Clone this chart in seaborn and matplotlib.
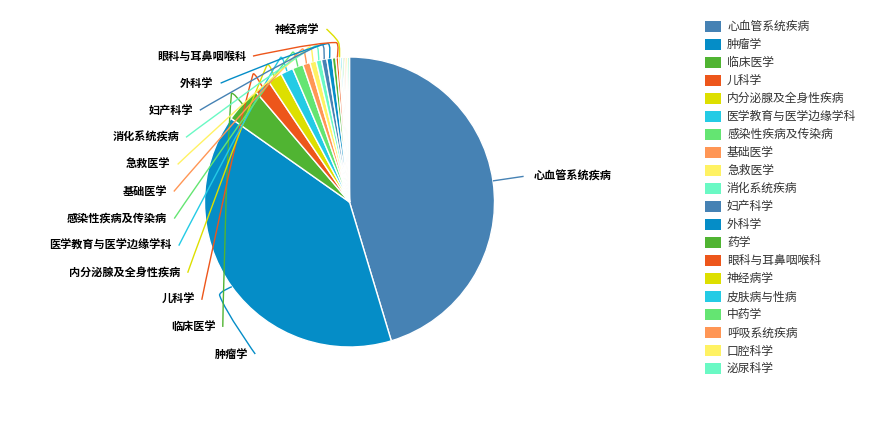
import matplotlib

matplotlib.use("Agg")
import matplotlib.pyplot as plt
import numpy as np
import seaborn as sns
from matplotlib.patches import PathPatch, Rectangle
from matplotlib.path import Path

# 数据
categories = [
    "心血管系统疾病", "肿瘤学", "临床医学", "儿科学", "内分泌腺及全身性疾病",
    "医学教育与医学边缘学科", "感染性疾病及传染病", "基础医学", "急救医学", "消化系统疾病",
    "妇产科学", "外科学", "药学", "眼科与耳鼻咽喉科", "神经病学",
    "皮肤病与性病", "中药学", "呼吸系统疾病", "口腔科学", "泌尿科学",
]
counts = [453, 394, 40, 18, 16, 14, 12, 8, 7, 6, 6, 6, 4, 3, 2, 2, 2, 2, 2, 2]
# 图上显示了标签的类别（其余被遮挡隐藏）
labeled = [
    "心血管系统疾病", "肿瘤学", "临床医学", "儿科学", "内分泌腺及全身性疾病",
    "医学教育与医学边缘学科", "感染性疾病及传染病", "基础医学", "急救医学", "消化系统疾病",
    "妇产科学", "外科学", "眼科与耳鼻咽喉科", "神经病学",
]
palette_hex = ["#4682B4", "#058DC7", "#50B432", "#ED561B", "#DDDF00",
               "#24CBE5", "#64E572", "#FF9655", "#FFF263", "#6AF9C4"]

W, H = 879, 424
CX, CY = 349.5, H - 202
RADIUS = 145
ELBOW_R = 160
LABEL_R = 176
# 左侧标签沿椭圆排布：上半/下半的纵向半轴
RB_TOP, RB_BOTTOM = 174.5, 180
SMOOTH = 0.3

sns.set_theme(style="white")
plt.rcParams["font.family"] = ["Noto Sans CJK SC", "DejaVu Sans"]

fig = plt.figure(figsize=(W / 100, H / 100), dpi=100)
ax = fig.add_axes([0, 0, 1, 1])
colors = sns.color_palette([palette_hex[i % len(palette_hex)] for i in range(len(categories))])

ax.pie(counts, colors=colors, startangle=90, counterclock=False,
       center=(CX, CY), radius=RADIUS,
       wedgeprops=dict(edgecolor="white", linewidth=1))
ax.set_xlim(0, W)
ax.set_ylim(0, H)
ax.set_aspect("equal")
ax.axis("off")

fracs = np.array(counts) / np.sum(counts)
mids = (np.cumsum(fracs) - fracs / 2) * 2 * np.pi  # 从12点顺时针


def _leader(i, end):
    d = np.array([np.sin(mids[i]), np.cos(mids[i])])
    c = np.array([CX, CY])
    p0 = c + RADIUS * d
    p1 = c + ELBOW_R * d
    p2 = np.asarray(end, dtype=float)
    d0 = np.linalg.norm(p1 - p0)
    d1 = np.linalg.norm(p2 - p1)
    v = p2 - p0
    cpa = p1 - v * SMOOTH * d0 / (d0 + d1)
    cpb = p1 + v * SMOOTH * d1 / (d0 + d1)
    verts = [p0, p0, cpa, p1, cpb, p2, p2]
    codes = [Path.MOVETO] + [Path.CURVE4] * 6
    ax.add_patch(PathPatch(Path(verts, codes), fill=False,
                           edgecolor=colors[i], linewidth=1))


# 右侧标签
left_idx = []
for name in labeled:
    i = categories.index(name)
    if mids[i] < np.pi:
        end = (CX + LABEL_R * np.sin(mids[i]), CY + LABEL_R * np.cos(mids[i]))
        _leader(i, end)
        ax.text(end[0] + 10, end[1], name, ha="left", va="center",
                fontsize=8, fontweight="bold", color="black")
    else:
        left_idx.append(i)

# 左侧标签：自下而上等距排列
y_bottom = H - 354
step = (354 - 29) / (len(left_idx) - 1)
for k, i in enumerate(left_idx):
    y = y_bottom + k * step
    dy = y - CY
    rb = RB_TOP if dy > 0 else RB_BOTTOM
    x = CX - LABEL_R * np.sqrt(max(1 - dy ** 2 / rb ** 2, 0))
    _leader(i, (x, y))
    ax.text(x - 7, y, categories[i], ha="right", va="center",
            fontsize=8, fontweight="bold", color="black")

# 图例
for i, name in enumerate(categories):
    y = H - (26 + 18.05 * i)
    ax.add_patch(Rectangle((705, y - 5.5), 16, 11, facecolor=colors[i], edgecolor="none"))
    ax.text(727, y, name, ha="left", va="center", fontsize=8.5, color="#333333")

fig.savefig("out.png", dpi=100)
plt.close(fig)
